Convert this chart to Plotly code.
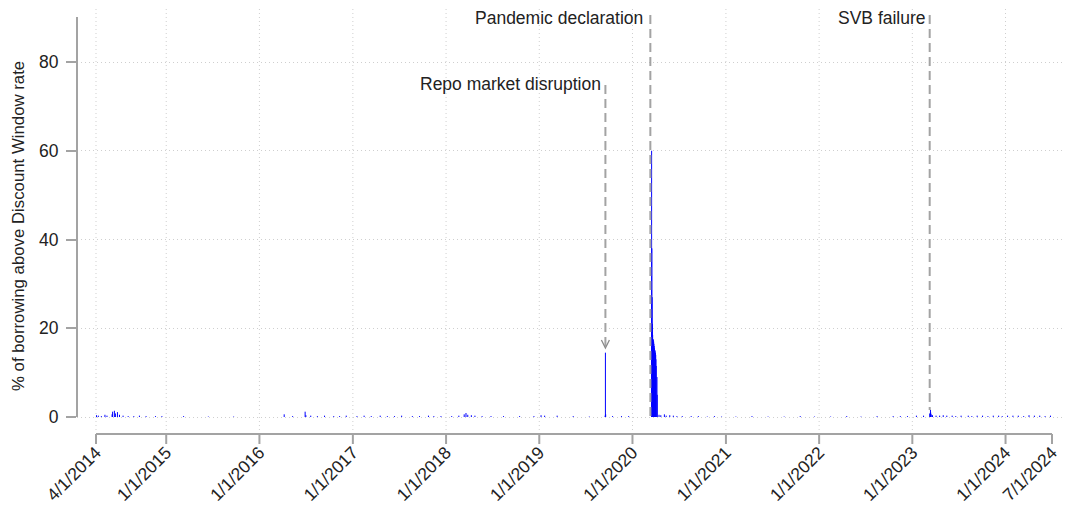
import pandas as pd
import plotly.graph_objects as go

# ---------------- data ----------------
X_TICK_DATES = ["2014-04-01", "2015-01-01", "2016-01-01", "2017-01-01", "2018-01-01",
                "2019-01-01", "2020-01-01", "2021-01-01", "2022-01-01", "2023-01-01",
                "2024-01-01", "2024-07-01"]
X_TICK_TEXT = ["4/1/2014", "1/1/2015", "1/1/2016", "1/1/2017", "1/1/2018", "1/1/2019",
               "1/1/2020", "1/1/2021", "1/1/2022", "1/1/2023", "1/1/2024", "7/1/2024"]
GRID_DATES = X_TICK_DATES[:-1]
Y_TICKS = [0, 20, 40, 60, 80]

# Pandemic episode (daily % of borrowing above DW rate)
PANDEMIC_DATES = ["2020-03-16", "2020-03-17", "2020-03-18", "2020-03-19", "2020-03-20",
                  "2020-03-23", "2020-03-24", "2020-03-25", "2020-03-26", "2020-03-27",
                  "2020-03-30", "2020-03-31", "2020-04-01", "2020-04-02", "2020-04-03",
                  "2020-04-06", "2020-04-07"]
PANDEMIC_VALUES = [60, 38, 27, 21, 18.5, 17.5, 17, 16.5, 16, 15.5, 15, 14.5, 14, 13, 11.5, 9, 5]

# Repo market disruption
REPO_DATES = ["2019-09-16", "2019-09-17", "2019-09-18"]
REPO_VALUES = [0.3, 14.5, 0.6]

# SVB failure
SVB_DATES = ["2023-03-10", "2023-03-13", "2023-03-14", "2023-03-16", "2023-03-21"]
SVB_VALUES = [0.8, 1.6, 1.0, 0.6, 0.4]

# Other small readings
OTHER_DATES = [
    "2014-04-03", "2014-04-10", "2014-04-22", "2014-05-06", "2014-05-14", "2014-06-03",
    "2014-06-05", "2014-06-12", "2014-06-16", "2014-06-24", "2014-07-02", "2014-07-16",
    "2014-08-05", "2014-08-27", "2014-09-18", "2014-10-14", "2014-11-20", "2014-12-15",
    "2015-03-10", "2015-06-15", "2015-09-22",
    "2016-04-07", "2016-05-10", "2016-06-28", "2016-07-01", "2016-07-20", "2016-08-15",
    "2016-09-12", "2016-10-18", "2016-11-10", "2016-12-06",
    "2017-01-17", "2017-02-14", "2017-03-14", "2017-04-18", "2017-05-16", "2017-06-13",
    "2017-07-11", "2017-08-22", "2017-09-19", "2017-10-24", "2017-11-14", "2017-12-12",
    "2018-01-23", "2018-02-20", "2018-03-13", "2018-03-20", "2018-03-27", "2018-04-10",
    "2018-04-24", "2018-05-22", "2018-06-26", "2018-08-14", "2018-10-16", "2018-12-11",
    "2019-01-08", "2019-01-22", "2019-03-12", "2019-05-14", "2019-07-16",
    "2019-10-15", "2019-11-19", "2019-12-17",
    "2020-04-14", "2020-04-21", "2020-05-05", "2020-05-12", "2020-05-26", "2020-06-09",
    "2020-06-23", "2020-07-14", "2020-08-18", "2020-09-15", "2020-10-20", "2020-11-17",
    "2020-12-15",
    "2021-02-09", "2021-04-13", "2021-06-15", "2021-08-17", "2021-10-19", "2021-12-14",
    "2022-02-15", "2022-04-19", "2022-06-14", "2022-08-16", "2022-10-18", "2022-11-15",
    "2022-12-13",
    "2023-01-17", "2023-02-14", "2023-04-04", "2023-04-18", "2023-05-02", "2023-05-16",
    "2023-06-06", "2023-06-20", "2023-07-11", "2023-08-08", "2023-08-22", "2023-09-12",
    "2023-10-03", "2023-10-24", "2023-11-14", "2023-12-05", "2023-12-19",
    "2024-01-09", "2024-01-30", "2024-02-20", "2024-03-12", "2024-04-02", "2024-04-23",
    "2024-05-14", "2024-06-04", "2024-06-25"]
OTHER_VALUES = [
    0.4, 0.3, 0.2, 0.5, 0.3, 0.6,
    1.2, 1.4, 0.8, 1.1, 0.5, 0.3,
    0.2, 0.2, 0.3, 0.2, 0.2, 0.2,
    0.2, 0.1, 0.1,
    0.6, 0.2, 1.2, 0.4, 0.3, 0.2,
    0.3, 0.2, 0.2, 0.3,
    0.2, 0.3, 0.2, 0.3, 0.2, 0.2,
    0.3, 0.2, 0.2, 0.3, 0.2, 0.2,
    0.2, 0.3, 0.6, 0.9, 0.5, 0.4,
    0.3, 0.2, 0.2, 0.2, 0.2, 0.2,
    0.4, 0.3, 0.3, 0.2, 0.1,
    0.2, 0.2, 0.2,
    0.5, 0.4, 0.6, 0.3, 0.4, 0.3,
    0.2, 0.2, 0.2, 0.2, 0.1, 0.2,
    0.1,
    0.1, 0.2, 0.1, 0.1, 0.2, 0.1,
    0.1, 0.2, 0.1, 0.2, 0.2, 0.2,
    0.2,
    0.3, 0.3, 0.3, 0.3, 0.4, 0.3,
    0.3, 0.2, 0.3, 0.3, 0.2, 0.3,
    0.3, 0.2, 0.3, 0.3, 0.2,
    0.3, 0.3, 0.3, 0.2, 0.4, 0.3,
    0.3, 0.2, 0.3]

EVENT_DATES = ["2020-03-11", "2019-09-17", "2023-03-10"]
EVENT_LABELS = ["Pandemic declaration", "Repo market disruption", "SVB failure"]

# ---------------- styling / geometry ----------------
OFF = 8  # page body margin: window px = figure px + OFF
W, H = 1072 - OFF, 508 - OFF


def fx(p):
    """window pixel column -> figure pixel column"""
    return p - OFF


def fy(p):
    """window pixel row -> figure pixel row"""
    return p - OFF


ML, MR, MT = fx(77), 0, 0
PB = fy(430)                 # plot bottom (figure px)
MB = H - PB
PH = PB - MT
PW = W - ML - MR
AXIS_GRAY = "#a3a3a3"
GRID_GRAY = "#cfcfcf"
TEXT = "#222222"
FONT = "Liberation Sans, Arial, Helvetica, sans-serif"

first_tick = pd.Timestamp(X_TICK_DATES[0])
last_tick = pd.Timestamp(X_TICK_DATES[-1])
px_first, px_last = fx(96), fx(1052)
px_per_day = (px_last - px_first) / (last_tick - first_tick).days
x_left = first_tick - pd.Timedelta(days=(px_first - ML) / px_per_day)
x_right = last_tick + pd.Timedelta(days=(W - MR - px_last) / px_per_day)

y_zero_px, px_per_unit = fy(417), 4.4375
y_top = (y_zero_px - MT) / px_per_unit
y_bot = -(PB - y_zero_px) / px_per_unit


def py(p):
    """window pixel row -> y data value"""
    return (y_zero_px - fy(p)) / px_per_unit


def ppaper(p):
    """window pixel row -> paper y"""
    return (PB - fy(p)) / PH


def pxpaper(p):
    """window pixel column -> paper x"""
    return (fx(p) - ML) / PW


# build needle ("type='h'") segments
all_dates = OTHER_DATES + REPO_DATES + PANDEMIC_DATES + SVB_DATES
all_vals = OTHER_VALUES + REPO_VALUES + PANDEMIC_VALUES + SVB_VALUES
xs, ys = [], []
for d, v in zip(all_dates, all_vals):
    xs += [d, d, None]
    ys += [0, v, None]

fig = go.Figure()
fig.add_trace(go.Scatter(x=xs, y=ys, mode="lines",
                         line=dict(color="#0000ff", width=1),
                         hoverinfo="skip", showlegend=False))

shapes = []
# vertical dotted grid lines
for d in GRID_DATES:
    shapes.append(dict(type="line", xref="x", yref="paper", x0=d, x1=d, y0=0, y1=1,
                       line=dict(color=GRID_GRAY, width=1, dash="1px,3px"), layer="below"))
# x axis line and ticks (offset below plot area)
shapes.append(dict(type="line", xref="x", yref="paper", x0=X_TICK_DATES[0], x1=X_TICK_DATES[-1],
                   y0=ppaper(434), y1=ppaper(434), line=dict(color=AXIS_GRAY, width=2)))
for d in X_TICK_DATES:
    shapes.append(dict(type="line", xref="x", yref="paper", x0=d, x1=d,
                       y0=ppaper(434), y1=ppaper(444), line=dict(color=AXIS_GRAY, width=2)))
# y axis line
shapes.append(dict(type="line", xref="paper", yref="y", x0=0, x1=0, y0=0, y1=py(17),
                   line=dict(color=AXIS_GRAY, width=2)))

# event dashed lines
dash = "9px,5px"
ev_ranges = [(py(15), 0), (py(85), py(348)), (py(15), py(410))]
for d, (y0, y1) in zip(EVENT_DATES, ev_ranges):
    shapes.append(dict(type="line", xref="x", yref="y", x0=d, x1=d, y0=y0, y1=y1,
                       line=dict(color=AXIS_GRAY, width=2, dash=dash)))
# open arrowhead on the repo line
shapes.append(dict(type="path", xref="x", yref="y", xsizemode="pixel", ysizemode="pixel",
                   xanchor=EVENT_DATES[1], yanchor=py(348), path="M-4,8 L0,0 L4,8",
                   line=dict(color="#8a8a8a", width=1.3)))

annotations = []
label_rows = [18, 84, 18]
label_shift = [-5, -2, -2]
for d, lab, r, s in zip(EVENT_DATES, EVENT_LABELS, label_rows, label_shift):
    annotations.append(dict(x=d, y=py(r), xref="x", yref="y", text=lab, showarrow=False,
                            xanchor="right", yanchor="middle", xshift=s,
                            font=dict(size=17.5, color=TEXT, family=FONT)))
annotations.append(dict(x=pxpaper(18), y=ppaper(226), xref="paper", yref="paper",
                        text="% of borrowing above Discount Window rate", textangle=-90,
                        showarrow=False, xanchor="center", yanchor="middle",
                        font=dict(size=16.8, color=TEXT, family=FONT)))

fig.update_layout(
    width=W, height=H, autosize=False,
    margin=dict(l=ML, r=MR, t=MT, b=MB, pad=0, autoexpand=False),
    paper_bgcolor="white", plot_bgcolor="white",
    font=dict(family=FONT, size=16, color=TEXT),
    showlegend=False,
    shapes=shapes, annotations=annotations,
    xaxis=dict(type="date", range=[x_left, x_right], tickmode="array", automargin=False,
               tickvals=X_TICK_DATES, ticktext=X_TICK_TEXT, tickangle=-45,
               ticks="", showgrid=False, zeroline=False, showline=False,
               ticklabelstandoff=8, tickfont=dict(size=17.5, color=TEXT, family=FONT)),
    yaxis=dict(range=[y_bot, y_top], tickmode="array", tickvals=Y_TICKS, automargin=False,
               ticks="outside", ticklen=10, tickwidth=2, tickcolor=AXIS_GRAY,
               showgrid=True, gridcolor=GRID_GRAY, gridwidth=1, griddash="1px,3px",
               zeroline=False, showline=False, ticklabelstandoff=4,
               tickfont=dict(size=17.5, color=TEXT, family=FONT)),
)

fig.write_html("out.html")
